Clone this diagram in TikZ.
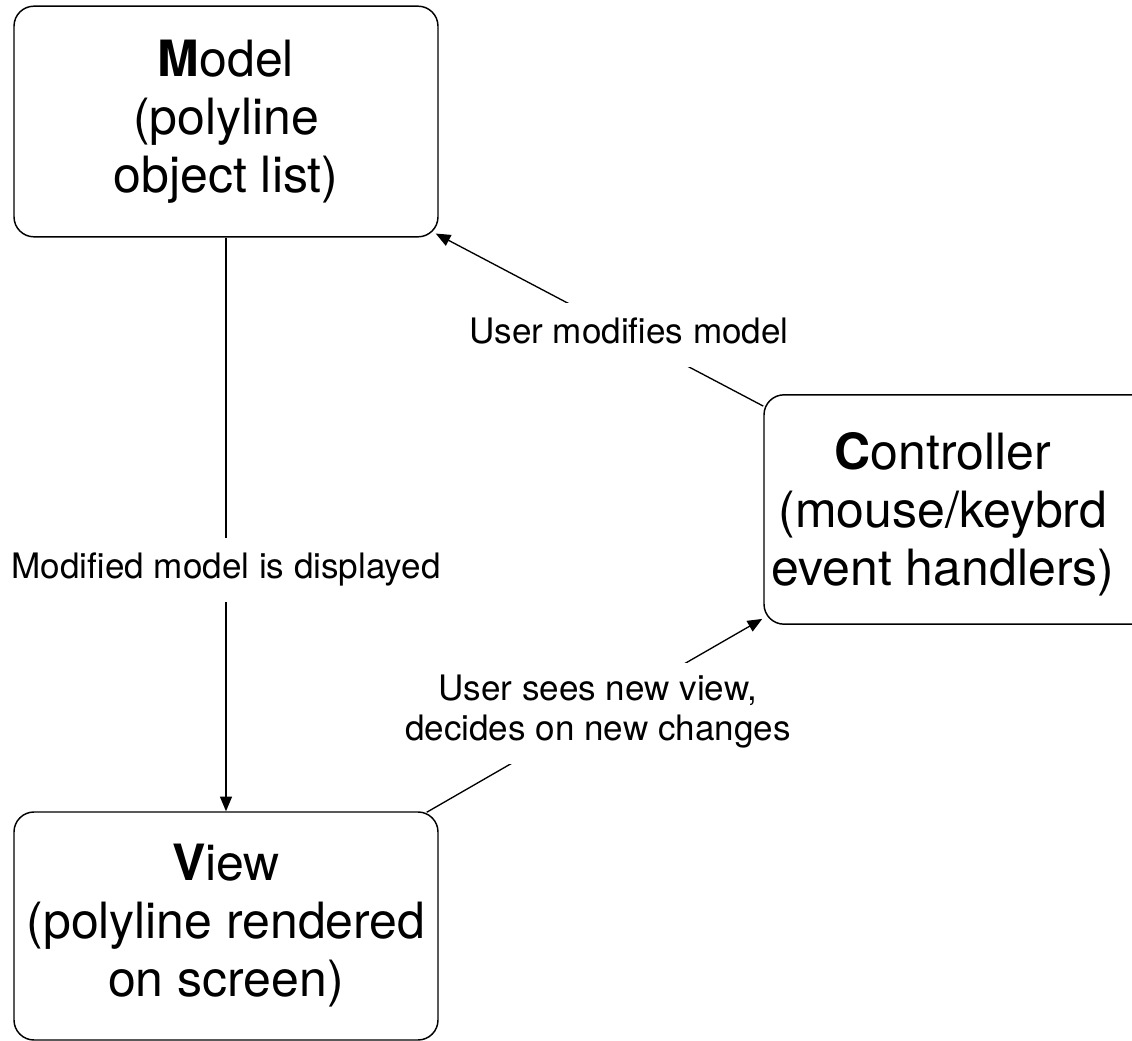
\documentclass[tikz,border=0pt]{standalone}
\usepackage{fontspec}
\setmainfont{TeX Gyre Heros}
\usetikzlibrary{arrows.meta,calc}

\begin{document}
\begin{tikzpicture}[x=0.75pt,y=0.75pt,yscale=-1,xscale=1,
        mvcbox/.style={draw, line width=1.1pt, rounded corners=15pt, minimum width=318pt, inner sep=0pt},
        boxtext/.style={align=center, font=\fontsize{37.5}{43.5}\selectfont},
        flow/.style={line width=1pt, -{Triangle[length=11pt,width=9pt]}},
        flowlabel/.style={fill=white, align=center, inner xsep=1pt, inner ysep=9pt,
            font=\fontsize{26.3}{30}\selectfont,
            execute at begin node=\strut, execute at end node=\strut}]
        \useasboundingbox (0,0) rectangle (1132,1041);
        \clip (0,0) rectangle (1132,1041);

        \node (model) [mvcbox, boxtext, minimum height=173pt] at (226,121.5) {\textbf{M}odel\\(polyline\\object list)};
        \node (view) [mvcbox, boxtext, minimum height=171pt] at (226,926) {\textbf{V}iew\\(polyline rendered\\on screen)};
        \node (ctrl) [mvcbox, minimum width=315pt, minimum height=172pt] at (974,509.5) {};
        \node (ctrltext) [boxtext] at (943,514) {\textbf{C}ontroller\\(mouse/keybrd\\event handlers)};

        \draw [flow] (model) -- (view) node [flowlabel, pos=0.58] {Modified model is displayed};
        \draw [flow] ($(ctrl.north west)+(0,12)$) -- ($(model.south east)+(-3,-4)$) node [flowlabel, pos=0.41] {User modifies model};
        \draw [flow] ($(view.north east)+(-12,1)$) -- ($(ctrl.south west)+(-1,-6)$) node [flowlabel, pos=0.51] {User sees new view,\\decides on new changes};
    \end{tikzpicture}
\end{document}
